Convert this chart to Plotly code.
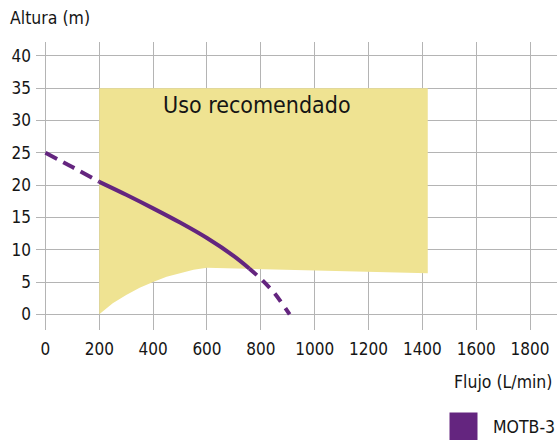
import plotly.graph_objects as go

# ---- data ----
x_ticks = [0, 200, 400, 600, 800, 1000, 1200, 1400, 1600, 1800]
y_ticks = [0, 5, 10, 15, 20, 25, 30, 35, 40]

# pump curve (MOTB-3)
curve_flow = [0, 100, 200, 300, 400, 500, 600, 700, 757, 800, 850, 907]
curve_head = [25, 22.8, 20.5, 18.5, 16.4, 14.2, 11.8, 9.0, 7.1, 5.5, 3.3, 0]
solid_min, solid_max = 200, 757

# recommended zone
zone_flow = [200, 250, 300, 350, 400, 450, 500, 550, 600, 700, 872, 1000, 1200, 1420]
zone_low = [0, 1.7, 3.0, 4.1, 5.0, 5.8, 6.4, 6.9, 7.2, 7.2, 7.0, 6.85, 6.6, 6.35]
zone_top = 35

series_name = "MOTB-3"
zone_label = "Uso recomendado"
x_title = "Flujo (L/min)"
y_title = "Altura (m)"

PURPLE = "#64257f"
YELLOW = "#efe392"
GRID = "#b4b4b4"
TXT = "#151515"
FONT = "DejaVu Sans Condensed, DejaVu Sans, sans-serif"

W, H = 557, 442
ML, MR, MT, MB = 36, 0, 42, 112

fig = go.Figure()

# zone polygon
poly_x = [zone_flow[0]] + [zone_flow[-1]] + zone_flow[::-1]
poly_y = [zone_top, zone_top] + zone_low[::-1]
fig.add_trace(go.Scatter(x=poly_x, y=poly_y, mode="lines", fill="toself",
                         fillcolor=YELLOW, line=dict(width=0), hoverinfo="skip",
                         showlegend=False))

# curve segments
def seg(cond):
    xs, ys = [], []
    for a, b in zip(curve_flow, curve_head):
        if cond(a):
            xs.append(a); ys.append(b)
    return xs, ys

sx, sy = seg(lambda a: solid_min <= a <= solid_max)
d1x, d1y = seg(lambda a: a <= solid_min)
d2x, d2y = seg(lambda a: a >= solid_max)

for xs, ys, dash in [(d1x, d1y, "13px,7px"), (sx, sy, "solid"), (d2x, d2y, "10px,8px")]:
    fig.add_trace(go.Scatter(x=xs, y=ys, mode="lines", line_shape="spline",
                             line=dict(color=PURPLE, width=4, dash=dash, smoothing=0.8),
                             showlegend=False, name=series_name))

pw = W - ML - MR
ph = H - MT - MB
def px2paper_x(px):
    return (px - ML) / pw
def px2paper_y(py):
    return (H - MB - py) / ph

annotations = [
    dict(text=y_title, x=px2paper_x(8), y=px2paper_y(18), xref="paper", yref="paper",
         xanchor="left", yanchor="middle", showarrow=False,
         font=dict(size=17.5, color=TXT, family=FONT)),
    dict(text=x_title, x=px2paper_x(554), y=px2paper_y(382), xref="paper", yref="paper",
         xanchor="right", yanchor="middle", showarrow=False,
         font=dict(size=17.5, color=TXT, family=FONT)),
    dict(text=series_name, x=px2paper_x(491), y=px2paper_y(427), xref="paper", yref="paper",
         xanchor="left", yanchor="middle", showarrow=False,
         font=dict(size=17.5, color=TXT, family=FONT)),
    dict(text=zone_label, x=428, y=32.4, xref="x", yref="y",
         xanchor="left", yanchor="middle", showarrow=False,
         font=dict(size=23, color=TXT, family=FONT)),
]

shapes = [
    dict(type="rect", xref="paper", yref="paper",
         x0=px2paper_x(449.5), x1=px2paper_x(477.5),
         y0=px2paper_y(412.5), y1=px2paper_y(440),
         fillcolor=PURPLE, line=dict(width=0), layer="above"),
]

fig.update_layout(
    width=W, height=H,
    margin=dict(l=ML, r=MR, t=MT, b=MB, pad=0, autoexpand=False),
    paper_bgcolor="white", plot_bgcolor="white",
    showlegend=False,
    annotations=annotations, shapes=shapes,
    font=dict(family=FONT, size=17, color=TXT),
)
fig.update_xaxes(range=[-35, 1900], tickvals=x_ticks, ticktext=[str(v) for v in x_ticks],
                 showgrid=True, gridcolor=GRID, gridwidth=1.3, zeroline=False,
                 showline=False, ticks="", ticklabelstandoff=7, automargin=False,
                 tickfont=dict(size=17, family=FONT, color=TXT), fixedrange=True)
fig.update_yaxes(range=[-2.43, 42.15], tickvals=y_ticks, ticktext=[str(v) for v in y_ticks],
                 showgrid=True, gridcolor=GRID, gridwidth=1.3, zeroline=False,
                 showline=False, ticks="", ticklabelstandoff=4, automargin=False,
                 tickfont=dict(size=17, family=FONT, color=TXT), fixedrange=True)

fig.write_html("out.html", config={"displayModeBar": False},
               post_script="document.body.style.margin='0px';document.body.style.padding='0px';")
